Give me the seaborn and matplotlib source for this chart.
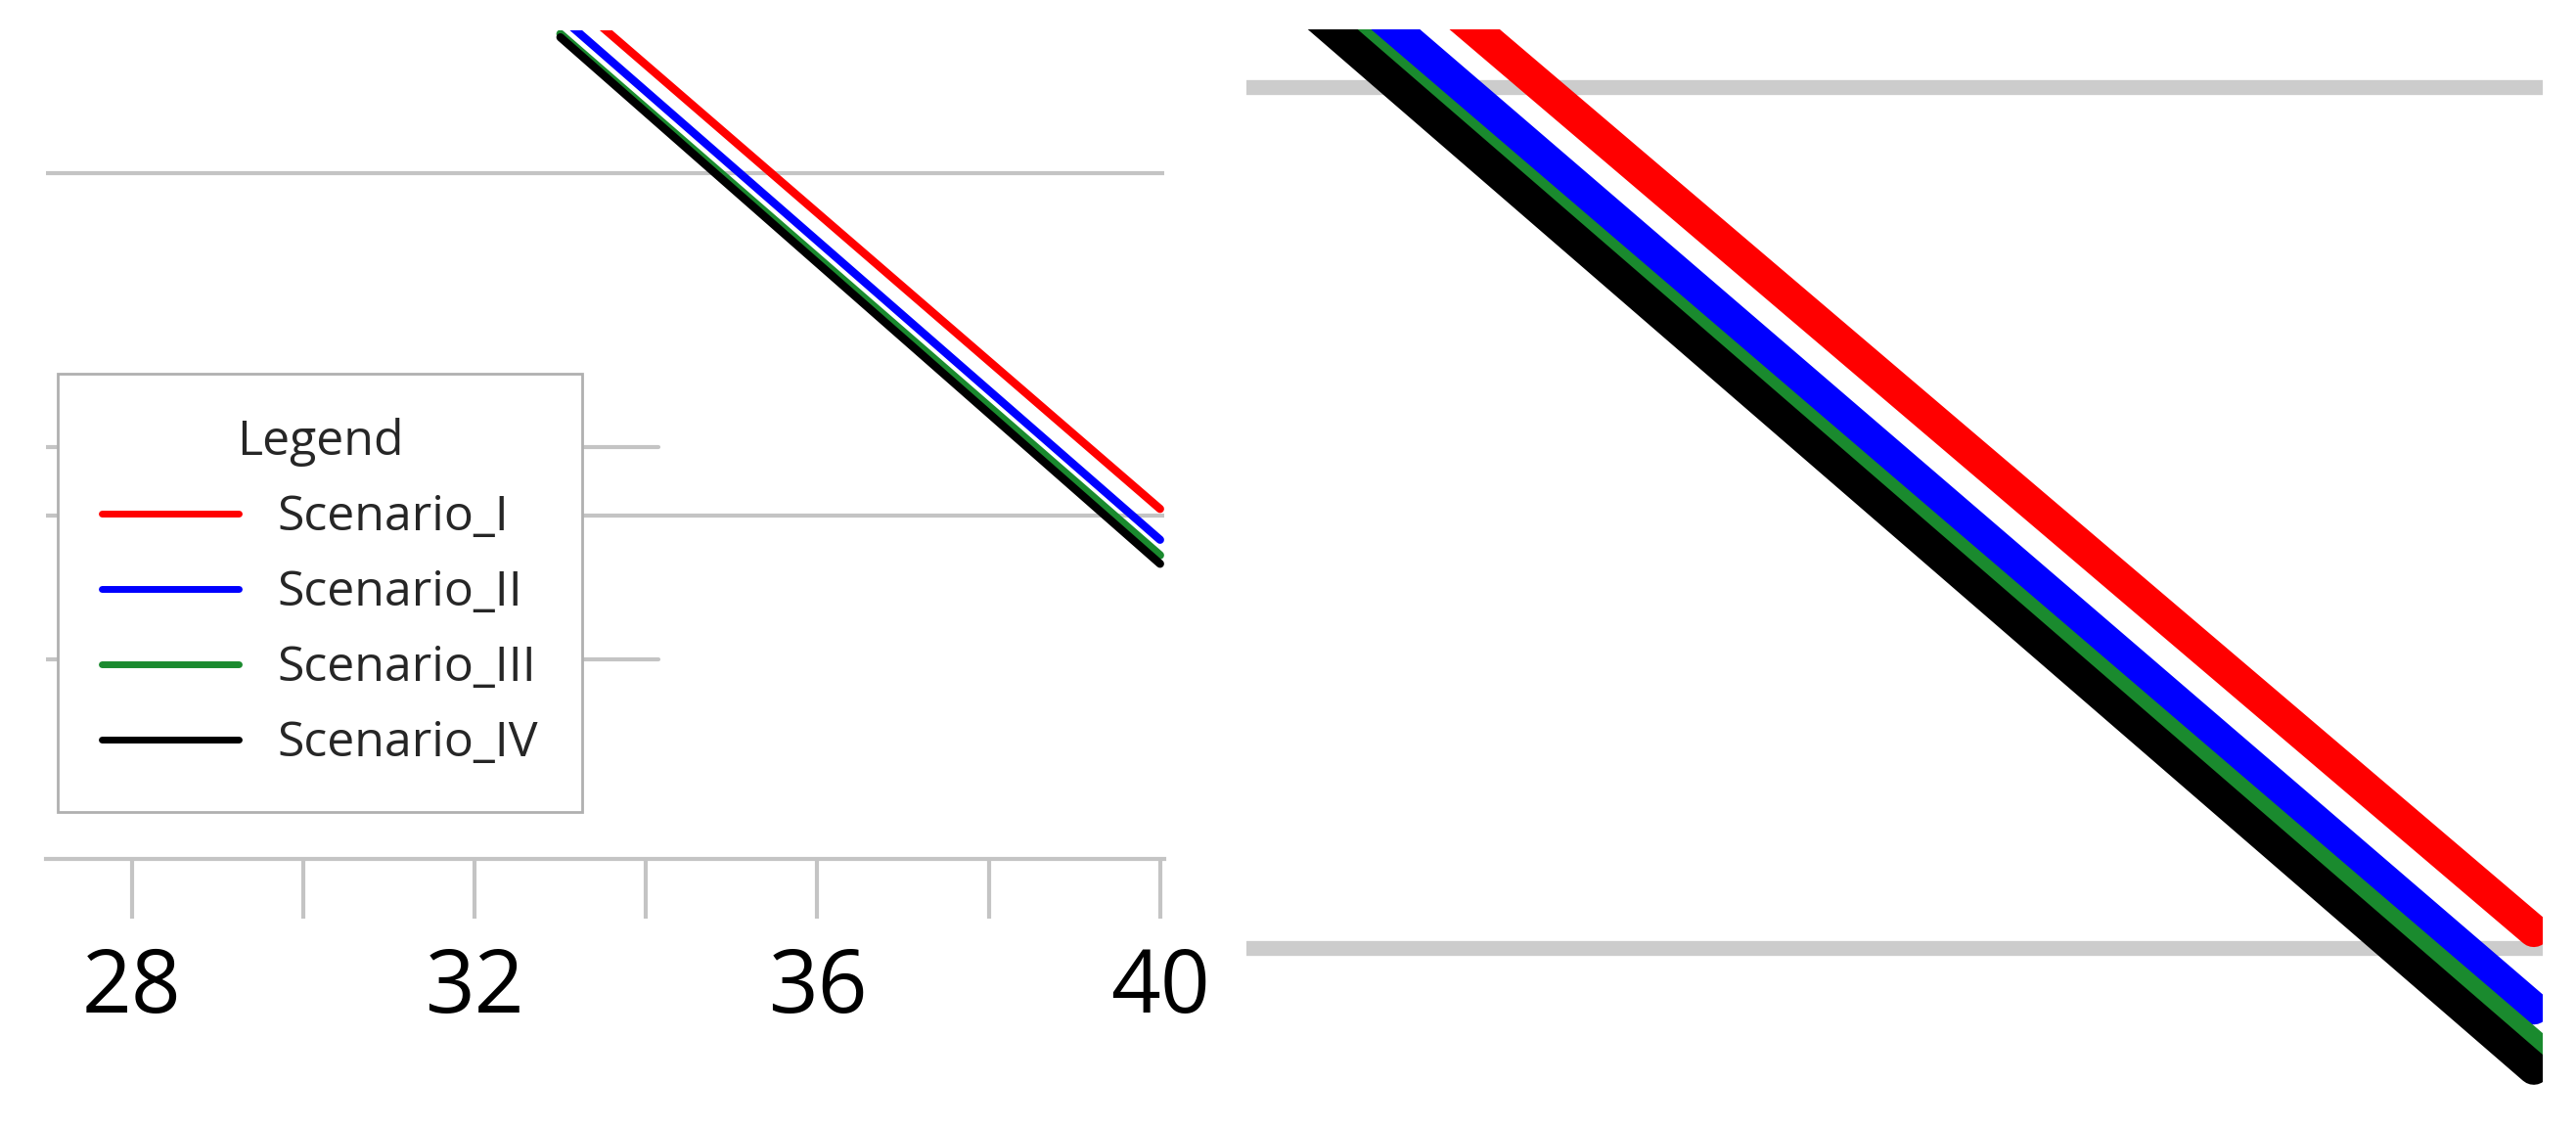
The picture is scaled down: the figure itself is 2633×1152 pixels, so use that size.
import matplotlib
matplotlib.use("Agg")
import matplotlib.pyplot as plt
import seaborn as sns
import pandas as pd

x_vals = [33, 40]
scenarios = ["Scenario_I", "Scenario_II", "Scenario_III", "Scenario_IV"]
scen_I = [5.06, 2.04]
scen_II = [4.91, 1.86]
scen_III = [4.81, 1.77]
scen_IV = [4.79, 1.72]
colors = ["#ff0000", "#0000ff", "#1a8a2e", "#000000"]
x_ticks = [28, 32, 36, 40]
x_minor = [30, 34, 38]
grid_y = [2, 4]
stub_y = [1.16, 2.4]

rows = []
for name, vals in zip(scenarios, [scen_I, scen_II, scen_III, scen_IV]):
    for xv, yv in zip(x_vals, vals):
        rows.append({"x": xv, "y": yv, "Scenario": name})
df = pd.DataFrame(rows)

sns.set_theme(style="white")
plt.rcParams['font.family'] = ['Open Sans', 'DejaVu Sans']
fig = plt.figure(figsize=(26.33, 11.52), dpi=100)
grey = "#c4c4c4"

# left panel
ax = fig.add_axes([0.018, 0.238, 0.434, 0.735])
for g in grid_y:
    ax.axhline(g, color=grey, lw=3, zorder=0)
for s in stub_y:
    ax.plot([27, 34.15], [s, s], color=grey, lw=3, zorder=0)
sns.lineplot(data=df, x="x", y="y", hue="Scenario", palette=colors, ax=ax,
             linewidth=6, solid_capstyle="round", legend=True)
ax.set_xlim(27, 40.05)
ax.set_ylim(0, 4.83)
for sp in ["top", "right", "left"]:
    ax.spines[sp].set_visible(False)
ax.spines["bottom"].set_color(grey)
ax.spines["bottom"].set_linewidth(3)
ax.set_xticks(x_ticks)
ax.set_xticks(x_minor, minor=True)
ax.tick_params(axis="x", which="both", direction="out", length=44, width=3,
               color=grey, bottom=True, labelsize=64, pad=20, labelcolor="black")
ax.tick_params(axis="y", left=False, labelleft=False)
ax.set_xlabel("")
ax.set_ylabel("")
leg = ax.legend(title="Legend", loc="lower left", bbox_to_anchor=(0.01, 0.056),
                fontsize=36, title_fontsize=36, frameon=True, fancybox=False,
                edgecolor="#b0b0b0", handlelength=2.8, handletextpad=0.8,
                labelspacing=0.55, borderpad=0.9, borderaxespad=0)
leg.get_frame().set_linewidth(2)
leg.get_frame().set_alpha(1)
leg.set_zorder(5)
for h in leg.get_lines():
    h.set_linewidth(5)

# right panel (zoom)
ax2 = fig.add_axes([0.484, 0.0, 0.503, 0.974])
for g in grid_y:
    ax2.axhline(g, color="#cccccc", lw=11, solid_capstyle="round", zorder=0)
sns.lineplot(data=df, x="x", y="y", hue="Scenario", palette=colors, ax=ax2,
             linewidth=24, solid_capstyle="round", legend=False)
ax2.set_xlim(34.1, 40.04)
ax2.set_ylim(1.584, 4.135)
ax2.axis("off")

fig.savefig("out.png", dpi=100)
